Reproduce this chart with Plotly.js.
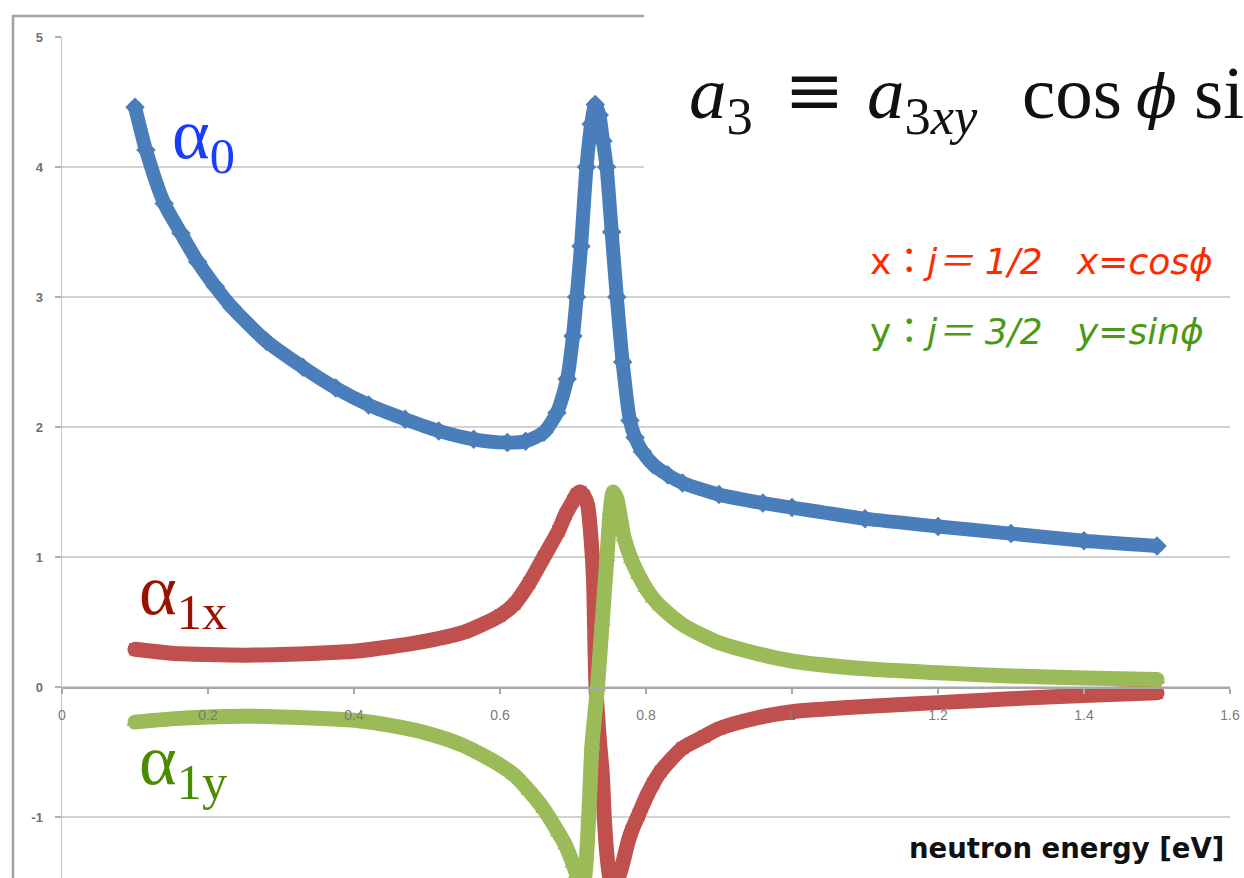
<!DOCTYPE html>
<html>
<head>
<meta charset="utf-8">
<script src="https://cdn.plot.ly/plotly-3.0.1.min.js"></script>
<style>
html,body{margin:0;padding:0;background:#fff;}
#chart{width:1244px;height:878px;}
.scatterlayer path.js-line{stroke-linejoin:round;stroke-linecap:round;}
</style>
</head>
<body>
<div id="chart"></div>
<script>
// ---- data ----
const a0_x = [0.1, 0.115, 0.14, 0.163, 0.186, 0.21, 0.233, 0.28, 0.33, 0.375, 0.42, 0.47, 0.516, 0.564, 0.61, 0.635, 0.66, 0.678, 0.692, 0.70, 0.705, 0.711, 0.7185, 0.725, 0.7305, 0.736, 0.741, 0.746, 0.753, 0.76, 0.768, 0.778, 0.785, 0.795, 0.81, 0.83, 0.85, 0.9, 0.96, 1.0, 1.1, 1.2, 1.3, 1.4, 1.5];
const a0_y = [4.46, 4.13, 3.72, 3.49, 3.27, 3.08, 2.92, 2.66, 2.46, 2.30, 2.17, 2.06, 1.97, 1.905, 1.88, 1.89, 1.96, 2.11, 2.37, 2.70, 3.0, 3.39, 4.0, 4.33, 4.48, 4.40, 4.2, 4.0, 3.5, 3.0, 2.5, 2.05, 1.92, 1.81, 1.71, 1.63, 1.57, 1.48, 1.415, 1.38, 1.295, 1.235, 1.18, 1.125, 1.085];

const a1x_x = [0.1, 0.15, 0.2, 0.25, 0.3, 0.35, 0.4, 0.45, 0.5, 0.55, 0.6, 0.62, 0.64, 0.66, 0.68, 0.69, 0.70, 0.705, 0.71, 0.715, 0.72, 0.725, 0.728, 0.7315, 0.736, 0.74, 0.743, 0.747, 0.751, 0.756, 0.761, 0.767, 0.775, 0.78, 0.79, 0.80, 0.81, 0.82, 0.85, 0.88, 0.9, 0.95, 1.0, 1.1, 1.2, 1.3, 1.4, 1.5];
const a1x_y = [0.29, 0.26, 0.25, 0.245, 0.25, 0.26, 0.275, 0.31, 0.355, 0.42, 0.55, 0.64, 0.8, 1.0, 1.2, 1.33, 1.43, 1.48, 1.5, 1.47, 1.4, 1.12, 0.84, 0.0, -0.4, -0.66, -1.02, -1.32, -1.48, -1.53, -1.48, -1.38, -1.2, -1.11, -0.98, -0.85, -0.74, -0.65, -0.47, -0.38, -0.32, -0.24, -0.19, -0.15, -0.12, -0.09, -0.065, -0.045];

const a1y_x = [0.1, 0.15, 0.2, 0.25, 0.3, 0.35, 0.4, 0.45, 0.5, 0.55, 0.6, 0.62, 0.64, 0.66, 0.68, 0.69, 0.70, 0.705, 0.712, 0.716, 0.7215, 0.726, 0.7335, 0.74, 0.7465, 0.751, 0.755, 0.76, 0.765, 0.77, 0.78, 0.79, 0.80, 0.81, 0.82, 0.85, 0.88, 0.9, 0.95, 1.0, 1.1, 1.2, 1.3, 1.4, 1.5];
const a1y_y = [-0.27, -0.245, -0.23, -0.225, -0.23, -0.24, -0.255, -0.295, -0.355, -0.45, -0.6, -0.68, -0.8, -0.94, -1.12, -1.22, -1.36, -1.44, -1.52, -1.46, -1.0, -0.45, 0.0, 0.5, 1.0, 1.35, 1.5, 1.45, 1.3, 1.15, 0.98, 0.86, 0.76, 0.68, 0.62, 0.48, 0.39, 0.34, 0.26, 0.2, 0.14, 0.11, 0.085, 0.07, 0.058];

const xTickVals = [0, 0.2, 0.4, 0.6, 0.8, 1, 1.2, 1.4, 1.6];
const xTickText = ['0', '0.2', '0.4', '0.6', '0.8', '1', '1.2', '1.4', '1.6'];
const yTickVals = [-1, 0, 1, 2, 3, 4, 5];
const yTickText = ['-1', '0', '1', '2', '3', '4', '5'];

// ---- layout geometry (pixels) ----
const FW = 1244, FH = 878;
const ML = 62, MR = 14, MT = 37, MB = 0;
const PW = FW - ML - MR, PH = FH - MT - MB;
const yMin = -1.469, yMax = 5;
const px = v => (v - ML) / PW;
const py = v => (FH - MB - v) / PH;

const lineShape = {shape: 'spline', smoothing: 0.7};
const traces = [
  {x: a0_x, y: a0_y, mode: 'lines+markers', name: 'a0',
   line: Object.assign({color: '#4a7ebb', width: 14}, lineShape),
   marker: {symbol: 'diamond', size: 15, color: '#4a7ebb'}},
  {x: a1x_x, y: a1x_y, mode: 'lines+markers', name: 'a1x',
   line: Object.assign({color: '#c0504d', width: 15}, lineShape),
   marker: {symbol: 'square', size: 12, color: '#c0504d'}},
  {x: a1y_x, y: a1y_y, mode: 'lines+markers', name: 'a1y',
   line: Object.assign({color: '#9bbb59', width: 15}, lineShape),
   marker: {symbol: 'triangle-up', size: 15, color: '#9bbb59'}}
];

function ann(text, xPx, topPx, font, extra) {
  return Object.assign({text: text, xref: 'paper', yref: 'paper',
    x: px(xPx), y: py(topPx), xanchor: 'left', yanchor: 'top',
    showarrow: false, font: font}, extra || {});
}
const eqFont = {family: 'Liberation Serif, DejaVu Serif, serif', size: 75, color: '#111'};
const eqFont2 = {family: 'DejaVu Serif, serif', size: 72, color: '#111'};
const phiFont = {family: 'DejaVu Serif, serif', size: 60, color: '#111'};
const lgRed = {family: 'DejaVu Sans, Noto Sans CJK JP, sans-serif', size: 36, color: '#ff2a00'};
const lgGreen = {family: 'DejaVu Sans, Noto Sans CJK JP, sans-serif', size: 36, color: '#4a9a14'};
const lblFont = c => ({family: 'Liberation Serif, serif', size: 72, color: c});

const annotations = [
  ann('<i>a</i><sub>3</sub>', 687, 49, eqFont),
  ann('≡', 782, 46, eqFont2),
  ann('<i>a</i><sub>3<i>xy</i></sub>', 865, 49, eqFont),
  ann('cos', 1020, 49, eqFont),
  ann('<i>ϕ</i>', 1134, 60, phiFont),
  ann('si', 1192, 49, eqFont),
  ann('x：<i>j＝ 1/2</i>\u00a0\u00a0\u00a0<i>x=cosϕ</i>', 868, 239, lgRed),
  ann('y：<i>j＝ 3/2</i>\u00a0\u00a0\u00a0<i>y=sinϕ</i>', 868, 309, lgGreen),
  ann('α<sub>0</sub>', 170, 92, lblFont('#1a3cff')),
  ann('α<sub>1x</sub>', 137, 548, lblFont('#991200')),
  ann('α<sub>1y</sub>', 137, 718, lblFont('#4a8c00')),
  ann('neutron energy [eV]', 907, 830, {family: 'DejaVu Sans, sans-serif', size: 27.5, color: '#111', weight: 'bold'})
];

const shapes = [
  // outer chart frame (left and top edges)
  {type: 'line', xref: 'paper', yref: 'paper', x0: px(13), x1: px(13), y0: py(15), y1: py(FH + 5),
   line: {color: '#a3a3a3', width: 2.5}, layer: 'above'},
  {type: 'line', xref: 'paper', yref: 'paper', x0: px(12), x1: px(644), y0: py(16), y1: py(16),
   line: {color: '#a3a3a3', width: 2.5}, layer: 'above'},
  // white equation panel covering top-right corner
  {type: 'rect', xref: 'paper', yref: 'paper', x0: px(644), x1: px(FW + 10), y0: py(205), y1: py(-10),
   fillcolor: '#ffffff', line: {width: 0}, layer: 'above'}
];

const layout = {
  width: FW, height: FH,
  margin: {l: ML, r: MR, t: MT, b: MB, pad: 0},
  paper_bgcolor: '#ffffff', plot_bgcolor: '#ffffff',
  showlegend: false,
  xaxis: {
    range: [0, 1.6], anchor: 'free', position: (0 - yMin) / (yMax - yMin),
    tickvals: xTickVals, ticktext: xTickText,
    showgrid: false, zeroline: false,
    showline: true, linecolor: '#a8a8a8', linewidth: 1.5,
    ticks: 'outside', ticklen: 5, tickcolor: '#a8a8a8', tickwidth: 1.5,
    ticklabelstandoff: 10,
    tickfont: {family: 'Liberation Sans, sans-serif', size: 14, color: '#7a7a7a'}
  },
  yaxis: {
    range: [yMin, yMax], domain: [0, 1],
    tickvals: yTickVals, ticktext: yTickText,
    showgrid: true, gridcolor: '#d2d2d2', gridwidth: 1.6,
    zeroline: false,
    showline: true, linecolor: '#c4c4c4', linewidth: 1.5,
    ticks: 'outside', ticklen: 6, tickcolor: '#b0b0b0', tickwidth: 1.5,
    ticklabelstandoff: 9,
    tickfont: {family: 'Liberation Sans, sans-serif', size: 13, color: '#6e6e6e', weight: 'bold'}
  },
  annotations: annotations,
  shapes: shapes
};

Plotly.newPlot('chart', traces, layout, {staticPlot: true, displayModeBar: false});
</script>
</body>
</html>
